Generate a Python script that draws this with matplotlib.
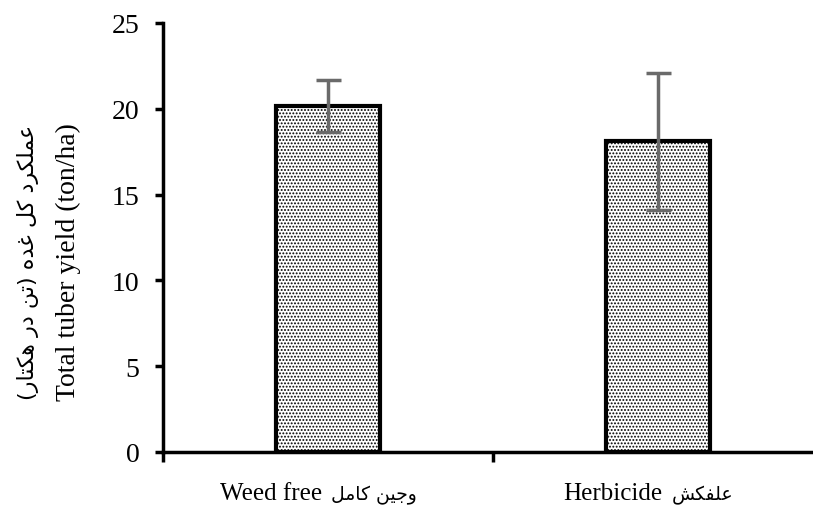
import matplotlib
matplotlib.use('Agg')
from matplotlib import pyplot as plt
from matplotlib import transforms

plt.rcParams['font.family'] = ['Liberation Serif', 'DejaVu Sans']
plt.rcParams['hatch.linewidth'] = 0.9

# data
categories = ['Weed free', 'Herbicide']
categories_fa = ['وجین کامل', 'علفکش']
yields = [20.15, 18.1]
errors = [1.5, 4.0]

ylabel_en = 'Total tuber yield (ton/ha)'
ylabel_fa = 'عملکرد کل غده (تن در هکتار)'

# presentation forms: isolated, final, initial, medial (None = no left join)
forms = {
    'ا': ('\ufe8d', '\ufe8e', None, None),
    'ت': ('\ufe95', '\ufe96', '\ufe97', '\ufe98'),
    'ج': ('\ufe9d', '\ufe9e', '\ufe9f', '\ufea0'),
    'د': ('\ufea9', '\ufeaa', None, None),
    'ر': ('\ufead', '\ufeae', None, None),
    'ش': ('\ufeb5', '\ufeb6', '\ufeb7', '\ufeb8'),
    'ع': ('\ufec9', '\ufeca', '\ufecb', '\ufecc'),
    'غ': ('\ufecd', '\ufece', '\ufecf', '\ufed0'),
    'ف': ('\ufed1', '\ufed2', '\ufed3', '\ufed4'),
    'ل': ('\ufedd', '\ufede', '\ufedf', '\ufee0'),
    'م': ('\ufee1', '\ufee2', '\ufee3', '\ufee4'),
    'ن': ('\ufee5', '\ufee6', '\ufee7', '\ufee8'),
    'ه': ('\ufee9', '\ufeea', '\ufeeb', '\ufeec'),
    'و': ('\ufeed', '\ufeee', None, None),
    'ک': ('\ufb8e', '\ufb8f', '\ufb90', '\ufb91'),
    'ی': ('\ufbfc', '\ufbfd', '\ufbfe', '\ufbff'),
}


def shape(text):
    # join letters, then put them in visual (left-to-right) order
    out = []
    n = len(text)
    for i, ch in enumerate(text):
        if ch not in forms:
            out.append(ch)
            continue
        prev = text[i - 1] if i > 0 else ''
        nxt = text[i + 1] if i < n - 1 else ''
        join_prev = prev in forms and forms[prev][2] is not None
        join_next = nxt in forms and forms[ch][2] is not None
        f = forms[ch]
        if join_prev and join_next:
            out.append(f[3])
        elif join_prev:
            out.append(f[1])
        elif join_next:
            out.append(f[2])
        else:
            out.append(f[0])
    s = ''.join(out)[::-1]
    return s.translate(str.maketrans('()', ')('))


W, H = 813, 506
fig = plt.figure(figsize=(W / 100, H / 100), dpi=100)
ax = fig.add_axes([163 / W, 53 / H, 660 / W, 429 / H])

x = list(range(len(categories)))
ax.bar(x, yields, width=0.315, color='white', edgecolor='black',
       linewidth=3, hatch='.....', zorder=2)
ax.errorbar(x, yields, yerr=errors, fmt='none', ecolor='#6a6a6a',
            elinewidth=2.5, capsize=9, capthick=2.5, zorder=3)

ax.set_xlim(-0.5, 1.5)
ax.set_ylim(0, 25)
ax.set_yticks([0, 5, 10, 15, 20, 25])
ax.set_xticks([-0.5, 0.5, 1.5])
ax.set_xticklabels([])
ax.tick_params(axis='x', length=7, width=2.5, direction='out')
ax.tick_params(axis='y', length=6, width=2.5, direction='out', labelsize=20, pad=11)

for s in ['top', 'right']:
    ax.spines[s].set_visible(False)
for s in ['left', 'bottom']:
    ax.spines[s].set_linewidth(2.5)

# y label: two lines, Persian above English
fig.text(28 / W, 1 - 262 / H, shape(ylabel_fa), rotation=90, ha='center',
         va='center', fontsize=16, family='DejaVu Sans')
fig.text(68 / W, 1 - 262 / H, ylabel_en, rotation=90, ha='center',
         va='center', fontsize=20)

# x labels: English + Persian, pair centred a little left of each bar
trans = transforms.blended_transform_factory(ax.transData, fig.transFigure)
fig.canvas.draw()
r = fig.canvas.get_renderer()
gap = 9
for xi, en, fa in zip(x, categories, categories_fa):
    t1 = ax.text(xi, 1 - 500 / H, en, transform=trans, ha='left',
                 va='baseline', fontsize=18)
    t2 = ax.text(xi, 1 - 500 / H, shape(fa), transform=trans, ha='left',
                 va='baseline', fontsize=13.5, family='DejaVu Sans')
    w1 = t1.get_window_extent(r).width
    w2 = t2.get_window_extent(r).width
    start = -(w1 + gap + w2) / 2 - 10
    t1.set_transform(trans + transforms.ScaledTranslation(start / 100, 0, fig.dpi_scale_trans))
    t2.set_transform(trans + transforms.ScaledTranslation((start + w1 + gap) / 100, 0,
                                                          fig.dpi_scale_trans))

fig.savefig('out.png', dpi=100)
